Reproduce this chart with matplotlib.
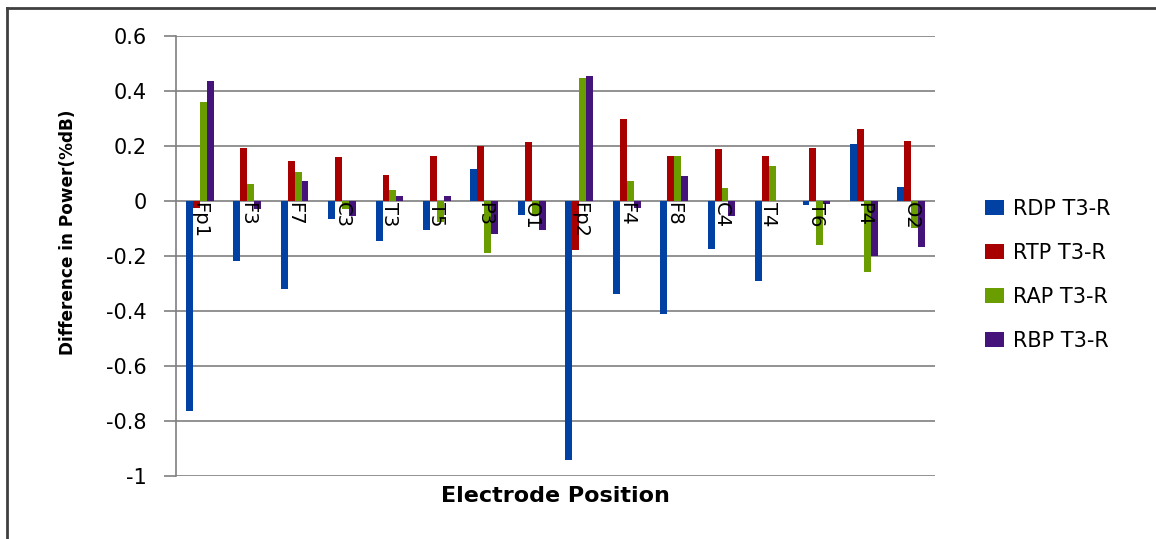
import numpy as np
import matplotlib.pyplot as plt
from matplotlib.lines import Line2D

electrodes = ['Fp1', 'F3', 'F7', 'C3', 'T3', 'T5', 'P3', 'O1',
              'Fp2', 'F4', 'F8', 'C4', 'T4', 'T6', 'P4', 'O2']
rdp = [-0.764, -0.218, -0.321, -0.067, -0.145, -0.107, 0.115, -0.051,
       -0.942, -0.339, -0.412, -0.176, -0.292, -0.016, 0.206, 0.051]
rtp = [-0.024, 0.194, 0.145, 0.159, 0.093, 0.163, 0.199, 0.215,
       -0.180, 0.297, 0.163, 0.189, 0.163, 0.194, 0.262, 0.219]
rap = [0.361, 0.061, 0.107, -0.029, 0.039, -0.075, -0.188, -0.051,
       0.446, 0.073, 0.163, 0.047, 0.128, -0.159, -0.258, -0.099]
rbp = [0.437, -0.029, 0.073, -0.055, 0.017, 0.017, -0.119, -0.107,
       0.456, -0.025, 0.091, -0.055, 0.0, -0.012, -0.201, -0.167]
series_names = ['RDP T3-R', 'RTP T3-R', 'RAP T3-R', 'RBP T3-R']
colors = ['#0041a3', '#a80000', '#6a9e00', '#44147a']
yticks = [0.6, 0.4, 0.2, 0, -0.2, -0.4, -0.6, -0.8, -1]
ytick_labels = ['0.6', '0.4', '0.2', '0', '-0.2', '-0.4', '-0.6', '-0.8', '-1']

fig = plt.figure(figsize=(11.56, 5.39), dpi=100)
ax = fig.add_axes([176 / 1156, 1 - 476 / 539, (935 - 176) / 1156, (476 - 36) / 539])

x = np.arange(len(electrodes))
w = 0.146
for i, (vals, name, c) in enumerate(zip([rdp, rtp, rap, rbp], series_names, colors)):
    ax.bar(x + (i - 1.5) * w, vals, w, color=c, label=name, zorder=3)

ax.set_xlim(-0.5, len(electrodes) - 0.5)
ax.set_ylim(-1, 0.6)
ax.set_yticks(yticks)
ax.set_yticklabels(ytick_labels, fontsize=15)
ax.yaxis.grid(True, color='#7f7f7f', linewidth=1.2, zorder=0)
ax.tick_params(axis='y', length=9, width=1.2, color='#7f7f7f', pad=12)
ax.set_xticks([])
for s in ['top', 'right', 'bottom']:
    ax.spines[s].set_visible(False)
ax.spines['left'].set_color('#7f7f7f')
ax.spines['left'].set_linewidth(1.2)

# category names sit just under the zero line, rotated
for xi, name in zip(x, electrodes):
    ax.text(xi, -0.005, name, rotation=-90, ha='center', va='top',
            fontsize=14, zorder=4)

fig.text(555 / 1156, 1 - 496 / 539, 'Electrode Position', ha='center', va='center',
         fontsize=16, fontweight='bold')
fig.text(68 / 1156, 1 - 232 / 539, 'Difference in Power(%dB)', ha='center', va='center',
         rotation=90, fontsize=12.2, fontweight='bold')

ax.legend(loc='center left', bbox_to_anchor=(966 / 1156, 1 - 275 / 539),
          bbox_transform=fig.transFigure, frameon=False, fontsize=15,
          handlelength=0.9, handleheight=0.7, labelspacing=1.15, handletextpad=0.45)

# outer frame on top and left edges
fig.add_artist(Line2D([7 / 1156, 1], [1 - 8 / 539, 1 - 8 / 539], color='#404040', linewidth=2))
fig.add_artist(Line2D([7 / 1156, 7 / 1156], [0, 1 - 8 / 539], color='#404040', linewidth=2))

fig.savefig('out.png', dpi=100)
